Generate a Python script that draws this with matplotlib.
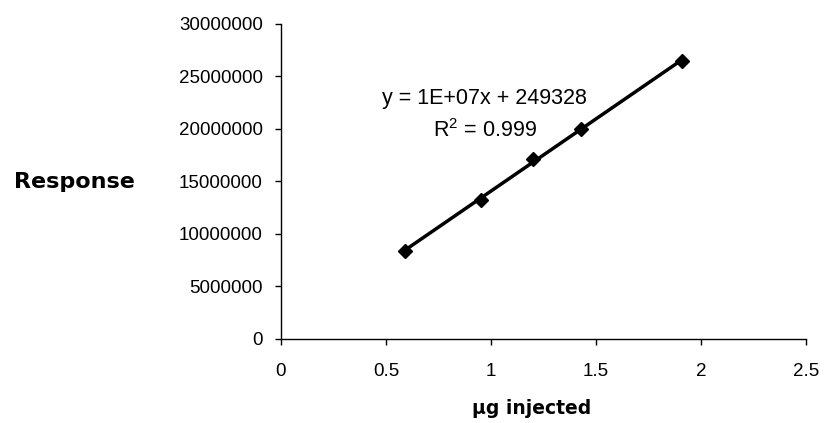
import numpy as np
import matplotlib
matplotlib.use("Agg")
import matplotlib.pyplot as plt

# данные калибровки
ug_injected = [0.59, 0.95, 1.20, 1.43, 1.91]
response = [8420000, 13200000, 17150000, 20030000, 26490000]
x_ticks = [0, 0.5, 1, 1.5, 2, 2.5]
y_ticks = [0, 5000000, 10000000, 15000000, 20000000, 25000000, 30000000]
equation_text = "y = 1E+07x + 249328"
r2_text = "R$^2$ = 0.999"

plt.rcParams['font.family'] = ['Liberation Sans', 'DejaVu Sans']
plt.rcParams['mathtext.fontset'] = 'custom'
plt.rcParams['mathtext.rm'] = 'Liberation Sans'

fig = plt.figure(figsize=(8.25, 4.23), dpi=100)
ax = fig.add_axes([0.3406, 0.1986, 0.6364, 0.7447])

# линия тренда по методу наименьших квадратов
slope, intercept = np.polyfit(ug_injected, response, 1)
x_fit = np.array([min(ug_injected), max(ug_injected)])
ax.plot(x_fit, slope * x_fit + intercept, color='black', linewidth=2.5, zorder=2)
ax.plot(ug_injected, response, linestyle='none', marker='D', markersize=7.5,
        color='black', zorder=3)

ax.set_xlim(0, 2.5)
ax.set_ylim(0, 30000000)
ax.set_xticks(x_ticks)
ax.set_xticklabels([f'{t:g}' for t in x_ticks])
ax.set_yticks(y_ticks)
ax.set_yticklabels([str(t) for t in y_ticks])
ax.tick_params(direction='out', length=4, width=1, labelsize=13.5, colors='black')
ax.tick_params(axis='y', pad=9)
ax.tick_params(axis='x', pad=13)
for side in ['top', 'right']:
    ax.spines[side].set_visible(False)
for side in ['left', 'bottom']:
    ax.spines[side].set_linewidth(1)

ax.text(0.97, 22950000, equation_text, ha='center', va='center', fontsize=15.5)
ax.text(0.97, 19850000, r2_text, ha='center', va='center', fontsize=15.5)

fig.text(0.09, 0.57, 'Response', ha='center', va='center', fontsize=16,
         fontweight='bold', family='DejaVu Sans')
fig.text(0.644, 0.035, 'µg injected', ha='center', va='center', fontsize=13.5,
         fontweight='bold', family='DejaVu Sans')

fig.savefig('out.png', dpi=100)
